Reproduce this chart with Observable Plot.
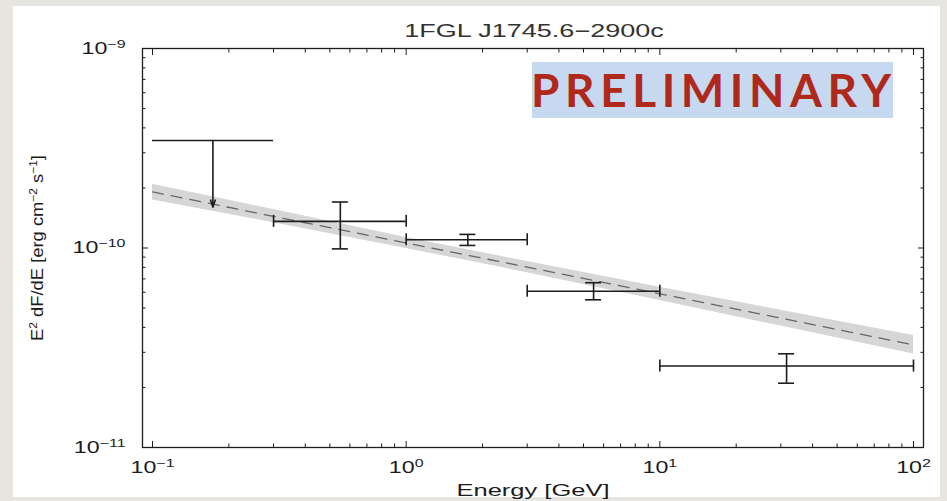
<!DOCTYPE html>
<html><head><meta charset="utf-8">
<script src="https://cdn.jsdelivr.net/npm/d3@7"></script>
<script src="https://cdn.jsdelivr.net/npm/@observablehq/plot@0.6"></script>
<style>
html,body{margin:0;padding:0;background:#e7e5e0;}
#wrap{position:relative;width:947px;height:501px;overflow:hidden;background:#e7e5e0;}
#panel{position:absolute;left:13px;top:6px;width:927px;height:491px;background:#fff;}
#chart{position:absolute;left:0;top:0;width:947px;height:501px;}
#chart svg{display:block;max-width:none;}
#title{position:absolute;left:533.5px;top:22px;font-family:"Liberation Sans",Arial,sans-serif;font-size:18px;line-height:18px;color:#333;white-space:nowrap;transform:translateX(-50%) scaleX(1.5);}
#prelim{position:absolute;left:532px;top:62px;width:361px;height:56px;background:#c6d9f1;}
#prelim span{position:absolute;left:-1px;top:5px;font-family:Lato,"Open Sans",sans-serif;font-weight:700;font-size:46px;line-height:46px;color:#b0281a;white-space:nowrap;}
</style></head>
<body>
<div id="wrap">
  <div id="panel"></div>
  <div id="chart"></div>
  <div id="title">1FGL J1745.6−2900c</div>
  <div id="prelim"><span id="prelimText">PRELIMINARY</span></div>
</div>
<script>
// ---- data ----
const fitEnergy = [0.1, 0.3, 1, 3, 10, 30, 100];
const fitCenter = [1.91e-10, 1.44e-10, 1.06e-10, 8.02e-11, 5.89e-11, 4.45e-11, 3.27e-11];
const fitUpper  = [2.09e-10, 1.56e-10, 1.13e-10, 8.55e-11, 6.36e-11, 4.88e-11, 3.64e-11];
const fitLower  = [1.74e-10, 1.34e-10, 0.995e-10, 7.52e-11, 5.46e-11, 4.06e-11, 2.94e-11];

const binCenter = [0.55, 1.75, 5.48, 31.6];
const binLow    = [0.3, 1, 3, 10];
const binHigh   = [1, 3, 10, 100];
const flux      = [1.36e-10, 1.10e-10, 6.07e-11, 2.56e-11];
const fluxLow   = [0.99e-10, 1.03e-10, 5.50e-11, 2.10e-11];
const fluxHigh  = [1.70e-10, 1.17e-10, 6.70e-11, 2.95e-11];

const ulCenter = [0.173];
const ulLow    = [0.1];
const ulHigh   = [0.3];
const ulValue  = [3.46e-10];
const ulArrow  = [1.60e-10];

const xMajor = [0.1, 1, 10, 100];
const xMinor = [2,3,4,5,6,7,8,9].flatMap(m => [0.1, 1, 10].map(d => m * d));
const yMajor = [1e-11, 1e-10, 1e-9];
const yMinor = [2,3,4,5,6,7,8,9].flatMap(m => [1e-11, 1e-10].map(d => m * d));
const xDomain = [0.0913, 109.5];
const yDomain = [1e-11, 1e-9];

const xLabel = "Energy [GeV]";
const yLabel = "E^{2} dF/dE [erg cm^{−2} s^{−1}]";

// ---- tables ----
const fit = fitEnergy.map((e, i) => ({e, c: fitCenter[i], hi: fitUpper[i], lo: fitLower[i]}));
const pts = binCenter.map((e, i) => ({e, lo: binLow[i], hi: binHigh[i], f: flux[i], flo: fluxLow[i], fhi: fluxHigh[i]}));
const ul = ulCenter.map((e, i) => ({e, lo: ulLow[i], hi: ulHigh[i], v: ulValue[i], to: ulArrow[i]}));

const fmtExp = v => "10^{" + String(Math.round(Math.log10(v))).replace("-", "−") + "}";
const ink = "#1c1c1c";
const none = () => "";

const chart = Plot.plot({
  width: 947, height: 501,
  marginLeft: 142, marginRight: 24, marginTop: 48, marginBottom: 54,
  style: {background: "transparent", fontFamily: '"Liberation Sans", Arial, sans-serif', fontSize: "16px", color: ink, overflow: "visible", maxWidth: "none"},
  x: {type: "log", domain: xDomain, label: null},
  y: {type: "log", domain: yDomain, label: null},
  marks: [
    Plot.areaY(fit, {x: "e", y1: "lo", y2: "hi", fill: "#d6d6d6"}),
    Plot.line(fit, {x: "e", y: "c", stroke: "#666", strokeWidth: 1.3, strokeDasharray: "11,8"}),
    // upper limit
    Plot.ruleY(ul, {y: "v", x1: "lo", x2: "hi", stroke: ink, strokeWidth: 1.6}),
    Plot.arrow(ul, {x: "e", y1: "v", y2: "to", stroke: ink, strokeWidth: 1.6, headLength: 7, headAngle: 36}),
    // data points
    Plot.ruleY(pts, {y: "f", x1: "lo", x2: "hi", stroke: ink, strokeWidth: 1.6}),
    Plot.ruleX(pts, {x: "lo", y1: "f", y2: "f", insetTop: -6, insetBottom: -6, stroke: ink, strokeWidth: 1.6}),
    Plot.ruleX(pts, {x: "hi", y1: "f", y2: "f", insetTop: -6, insetBottom: -6, stroke: ink, strokeWidth: 1.6}),
    Plot.ruleX(pts, {x: "e", y1: "flo", y2: "fhi", stroke: ink, strokeWidth: 1.6}),
    Plot.ruleY(pts, {y: "flo", x1: "e", x2: "e", insetLeft: -8, insetRight: -8, stroke: ink, strokeWidth: 1.6}),
    Plot.ruleY(pts, {y: "fhi", x1: "e", x2: "e", insetLeft: -8, insetRight: -8, stroke: ink, strokeWidth: 1.6}),
    // inward ticks
    Plot.axisX(xMajor, {anchor: "bottom", tickSize: -6, tickFormat: none, label: null, stroke: ink}),
    Plot.axisX(xMinor, {anchor: "bottom", tickSize: -3.5, tickFormat: none, label: null, stroke: ink}),
    Plot.axisX(xMajor, {anchor: "top", tickSize: -6, tickFormat: none, label: null, stroke: ink}),
    Plot.axisX(xMinor, {anchor: "top", tickSize: -3.5, tickFormat: none, label: null, stroke: ink}),
    Plot.axisY(yMajor, {anchor: "left", tickSize: -6, tickFormat: none, label: null, stroke: ink}),
    Plot.axisY(yMinor, {anchor: "left", tickSize: -3.5, tickFormat: none, label: null, stroke: ink}),
    Plot.axisY(yMajor, {anchor: "right", tickSize: -6, tickFormat: none, label: null, stroke: ink}),
    Plot.axisY(yMinor, {anchor: "right", tickSize: -3.5, tickFormat: none, label: null, stroke: ink}),
    // tick labels & axis labels
    Plot.axisX(xMajor, {anchor: "bottom", tickSize: 0, tickPadding: 14, tickFormat: fmtExp, fontSize: 16,
      label: xLabel, labelAnchor: "center", labelOffset: 48, labelArrow: "none"}),
    Plot.axisY(yMajor, {anchor: "left", tickSize: 0, tickPadding: 17, tickFormat: fmtExp, fontSize: 16,
      label: yLabel, labelAnchor: "center", labelOffset: 112, labelArrow: "none"}),
    Plot.frame({stroke: ink, strokeWidth: 1.3})
  ]
});
document.getElementById("chart").appendChild(chart);

// superscripts and the wide lettering of the original
const NS = "http://www.w3.org/2000/svg";
function superscriptify(t) {
  const s = t.textContent;
  const parts = s.split(/(\^\{[^}]*\})/);
  t.textContent = "";
  let raised = false;
  for (const p of parts) {
    if (!p) continue;
    const ts = document.createElementNS(NS, "tspan");
    if (p.startsWith("^{")) {
      ts.textContent = p.slice(2, -1);
      ts.setAttribute("font-size", "11");
      if (!raised) ts.setAttribute("dy", "-6");
      raised = true;
    } else {
      ts.textContent = p;
      if (raised) ts.setAttribute("dy", "6");
      raised = false;
    }
    t.appendChild(ts);
  }
}
chart.querySelectorAll("text").forEach(t => {
  if (!t.textContent) return;
  if (t.textContent.includes("^{")) superscriptify(t);
  const g = t.closest("g[aria-label]");
  const role = g ? g.getAttribute("aria-label") : "";
  let k = 1.45;
  if (role === "y-axis label") { t.style.fontSize = "17px"; k = 1.08; }
  if (role === "x-axis label") { t.style.fontSize = "17px"; k = 1.5; }
  const L = t.getComputedTextLength();
  if (L > 0) {
    t.setAttribute("textLength", (L * k).toFixed(1));
    t.setAttribute("lengthAdjust", "spacingAndGlyphs");
  }
});

// PRELIMINARY letter spacing to fill its box
const pt = document.getElementById("prelimText");
pt.style.letterSpacing = "0px";
const w0 = pt.getBoundingClientRect().width;
pt.style.letterSpacing = ((360 - w0) / 10).toFixed(2) + "px";
</script>
</body></html>
